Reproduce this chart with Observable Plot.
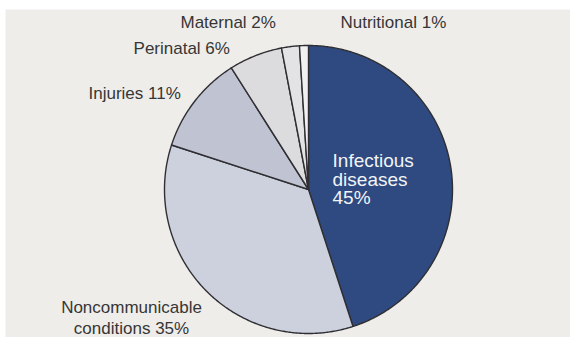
<!DOCTYPE html>
<html><head><meta charset="utf-8">
<script src="https://cdn.jsdelivr.net/npm/d3@7"></script>
<script src="https://cdn.jsdelivr.net/npm/@observablehq/plot@0.6"></script>
<style>html,body{margin:0;padding:0;background:#ffffff;} #chart svg{display:block;}</style>
</head><body><div id="chart"></div>
<script>
// ---- data ----
const categories = ["Infectious diseases", "Noncommunicable conditions", "Injuries", "Perinatal", "Maternal", "Nutritional"];
const shares = [45, 35, 11, 6, 2, 1];
const labelTexts = ["Infectious\ndiseases\n45%", "Noncommunicable\nconditions 35%", "Injuries 11%", "Perinatal 6%", "Maternal 2%", "Nutritional 1%"];
const sliceColors = ["#2e4a80", "#cdd1de", "#c0c3d1", "#dcdcdf", "#e3e3e6", "#f1f1f3"];

// ---- layout (pie centre / radius in px, labels in radius units) ----
const W = 570, H = 337, cx = 308, cy = 189, R = 144;
const labelLayout = [
  {x: 0.167, y: 0.070, anchor: "start", size: 19, lh: 1.0, color: "#f3f4f7"},
  {x: -1.229, y: -0.885, anchor: "middle", size: 17, lh: 1.235, color: "#363636"},
  {x: -1.528, y: 0.669, anchor: "start", size: 17, lh: 1, color: "#363636"},
  {x: -1.215, y: 0.982, anchor: "start", size: 17, lh: 1, color: "#363636"},
  {x: -0.889, y: 1.156, anchor: "start", size: 17, lh: 1, color: "#363636"},
  {x: 0.222, y: 1.156, anchor: "start", size: 17, lh: 1, color: "#363636"}
];

// slice outlines from the shares (angles clockwise from 12 o'clock)
const total = d3.sum(shares);
const slicePoints = [];
let acc = 0;
categories.forEach((name, i) => {
  const a0 = acc / total * 2 * Math.PI;
  acc += shares[i];
  const a1 = acc / total * 2 * Math.PI;
  slicePoints.push({name, x: 0, y: 0});
  const n = Math.max(2, Math.ceil((a1 - a0) / (Math.PI / 360)));
  for (let k = 0; k <= n; k++) {
    const a = a0 + (a1 - a0) * k / n;
    slicePoints.push({name, x: Math.sin(a), y: Math.cos(a)});
  }
  slicePoints.push({name, x: 0, y: 0});
});

const textMarks = categories.map((name, i) => {
  const L = labelLayout[i];
  return Plot.text([{x: L.x, y: L.y, t: labelTexts[i]}], {
    x: "x", y: "y", text: "t",
    textAnchor: L.anchor, fontSize: L.size, lineHeight: L.lh,
    fill: L.color, fontFamily: "'Liberation Sans', Arial, Helvetica, sans-serif"
  });
});

const chart = Plot.plot({
  width: W, height: H,
  margin: 0,
  x: {domain: [-cx / R, (W - cx) / R], axis: null},
  y: {domain: [-(H - cy) / R, cy / R], axis: null},
  color: {domain: categories, range: sliceColors},
  style: {background: "transparent", fontFamily: "'Liberation Sans', Arial, sans-serif"},
  marks: [
    Plot.frame({fill: "#efede9", stroke: null, insetTop: 9, insetLeft: 5}),
    Plot.line(slicePoints, {x: "x", y: "y", z: "name", fill: "name", stroke: "#2f2f33", strokeWidth: 1.4, strokeLinejoin: "round", curve: "linear"}),
    ...textMarks
  ]
});
document.getElementById("chart").appendChild(chart);
</script>
</body></html>
